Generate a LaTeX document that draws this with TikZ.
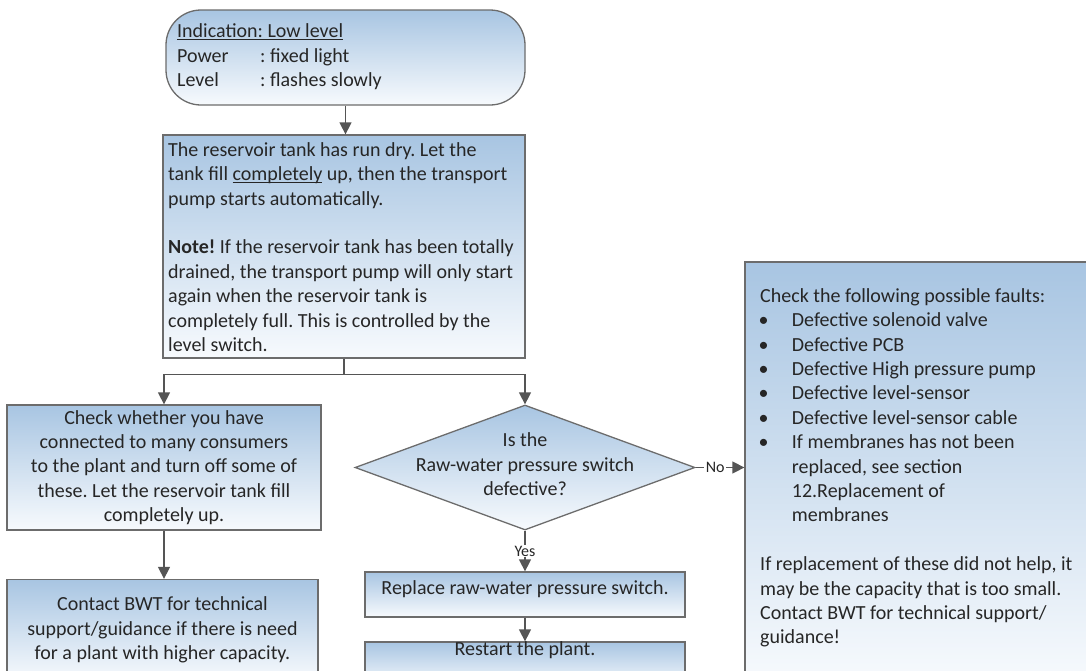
\documentclass[tikz,border=0pt]{standalone}
\usepackage{fontspec}
\setmainfont{Carlito}
\usetikzlibrary{shapes.geometric,arrows.meta}

\definecolor{shadetop}{HTML}{A8C5E2}
\definecolor{shadebot}{HTML}{F7FAFD}
\definecolor{rim}{HTML}{6C6C6C}
\definecolor{wire}{HTML}{555555}
\definecolor{ink}{HTML}{262626}

% underline that sits just under the baseline
\newcommand{\ulword}[1]{\leavevmode\setbox0=\hbox{#1}\rlap{\rule[-2.2pt]{\wd0}{1.1pt}}\box0\relax}
% fixed height of the first line of a text block
\newcommand{\firstline}{\rule{0pt}{15pt}}
% bullet list helpers
\newcommand{\bul}{\makebox[31.7pt][l]{\hspace*{-1.5pt}\textbullet}}
\newcommand{\cont}{\hspace*{31.7pt}}

\frenchspacing

\begin{document}
\begin{tikzpicture}[x=1pt,y=-1pt,
  txt/.style={font=\fontsize{20}{24.4}\selectfont\frenchspacing, text=ink, inner sep=0pt},
  panel/.style={draw=rim, line width=1.3pt, top color=shadetop, bottom color=shadebot, inner sep=0pt},
  link/.style={draw=wire, line width=1.4pt},
  flow/.style={link, -{Triangle[length=12pt,width=12pt]}},
  tag/.style={font=\fontsize{16}{18}\selectfont, text=ink, fill=white, inner xsep=1.5pt, inner ysep=1pt},
]
\useasboundingbox (0,0) rectangle (1086,670);
\clip (0,0) rectangle (1086,670);

% status indication
\node[panel, rounded corners=35pt, minimum width=359pt, minimum height=95pt] (ind) at (345.5,57.5) {};
\node[txt, align=left, anchor=north west] (indt) at (177,22.5)
  {\firstline\ulword{Indication: Low level}\\
   \makebox[83pt][l]{Power}: fixed light\\
   \makebox[83pt][l]{Level}: flashes slowly};

% reservoir explanation
\node[panel, minimum width=362pt, minimum height=223pt] (res) at (344,246.5) {};
\node[txt, align=left, anchor=north west] (rest) at (168,141)
  {\firstline The reservoir tank has run dry. Let the\\
   tank fill \ulword{completely} up, then the transport\\
   pump starts automatically.\\
   \mbox{}\\
   \textbf{Note!} If the reservoir tank has been totally\\
   drained, the transport pump will only start\\
   again when the reservoir tank is\\
   completely full. This is controlled by the\\
   level switch.};

% left branch
\node[panel, txt, align=center, minimum width=314pt, minimum height=125pt] (left1) at (164,467.5)
  {Check whether you have\\connected to many consumers\\to the plant and turn off some of\\these. Let the reservoir tank fill\\completely up.};
\node[panel, txt, align=center, minimum width=311pt, minimum height=101pt] (left2) at (162.5,630)
  {Contact BWT for technical\\support/guidance if there is need\\for a plant with higher capacity.};

% decision
\node[panel, diamond, minimum width=340pt, minimum height=125pt] (q) at (525,467.5) {};
\node[txt, align=center, yshift=3pt] (qt) at (q) {Is the\\Raw-water pressure switch\\defective?};

\node[panel, txt, minimum width=320pt, minimum height=45pt, text height=14pt, text depth=15pt] (rep) at (525,594.5)
  {Replace raw-water pressure switch.};
\node[panel, txt, minimum width=320pt, minimum height=45pt, text height=13pt, text depth=32pt] (restart) at (525,664.5)
  {Restart the plant.};

% fault list
\node[panel, minimum width=350pt, minimum height=420pt] (faults) at (920,472) {};
\node[txt, align=left, anchor=north west] (faultst) at (760,287)
  {\firstline Check the following possible faults:\\
   \bul Defective solenoid valve\\
   \bul Defective PCB\\
   \bul Defective High pressure pump\\
   \bul Defective level-sensor\\
   \bul Defective level-sensor cable\\
   \bul If membranes has not been\\
   \cont replaced, see section\\
   \cont 12.Replacement of\\
   \cont membranes\\
   \mbox{}\\
   If replacement of these did not help, it\\
   may be the capacity that is too small.\\
   Contact BWT for technical support/\\
   guidance!};

% connectors
\draw[flow] (ind.south) -- (ind.south |- res.north);
\draw[link] (res.south) -- ++(0,16) coordinate (split);
\draw[flow] (split) -| (left1.north);
\draw[flow] (split) -| (q.north);
\draw[flow] (left1.south) -- (left1.south |- left2.north);
\draw[flow] (q.south) -- node[tag] (yes) {Yes} (q.south |- rep.north);
\draw[flow] (rep.south) -- (rep.south |- restart.north);
\draw[flow] (q.east) -- node[tag, pos=0.4] (no) {No} (q.east -| faults.west);
\end{tikzpicture}
\end{document}
